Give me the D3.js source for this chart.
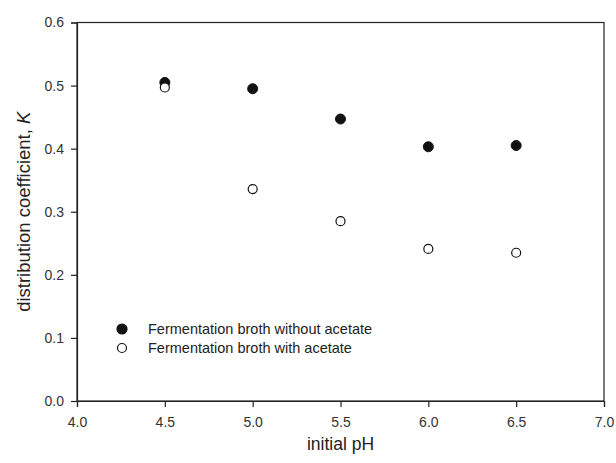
<!DOCTYPE html>
<html>
<head>
<meta charset="utf-8">
<script src="https://cdn.jsdelivr.net/npm/d3@7"></script>
<style>
  body { margin: 0; background: #fff; }
  svg text { font-family: "Liberation Sans", Arial, sans-serif; fill: #222; }
</style>
</head>
<body>
<div id="chart-area"></div>
<script>
// Data
const phValues = [4.5, 5.0, 5.5, 6.0, 6.5];
const withoutAcetate = [0.505, 0.495, 0.447, 0.403, 0.405];
const withAcetate = [0.497, 0.336, 0.285, 0.241, 0.235];
const xTicks = [4.0, 4.5, 5.0, 5.5, 6.0, 6.5, 7.0];
const yTicks = [0.0, 0.1, 0.2, 0.3, 0.4, 0.5, 0.6];
const seriesNames = ["Fermentation broth without acetate", "Fermentation broth with acetate"];

const margin = { left: 77, right: 12, top: 22.5, bottom: 62 };
const W = 616, H = 463;
const width = W - margin.left - margin.right;
const height = H - margin.top - margin.bottom;

const svg = d3.select("#chart-area").append("svg")
    .attr("width", W)
    .attr("height", H);

const g = svg.append("g")
    .attr("transform", `translate(${margin.left}, ${margin.top})`);

const xScale = d3.scaleLinear().domain([4.0, 7.0]).range([0, width]);
const yScale = d3.scaleLinear().domain([0, 0.6]).range([height, 0]);

// Frame (top and right have no ticks)
g.append("rect")
    .attr("width", width)
    .attr("height", height)
    .attr("fill", "none")
    .attr("stroke", "#222")
    .attr("stroke-width", 1.2);

const xAxis = g.append("g")
    .attr("transform", `translate(0, ${height})`)
    .call(d3.axisBottom(xScale).tickValues(xTicks).tickFormat(d3.format(".1f")).tickSize(6).tickPadding(10));

const yAxis = g.append("g")
    .call(d3.axisLeft(yScale).tickValues(yTicks).tickFormat(d3.format(".1f")).tickSize(6).tickPadding(7));

[xAxis, yAxis].forEach(a => {
    a.select(".domain").attr("stroke", "#222").attr("stroke-width", 1.2);
    a.selectAll(".tick line").attr("stroke", "#222").attr("stroke-width", 1.2);
    a.selectAll(".tick text").style("font-size", "14px").style("fill", "#333");
});

// Axis labels
svg.append("text")
    .attr("x", margin.left + width / 2)
    .attr("y", 450)
    .style("text-anchor", "middle")
    .style("font-size", "17.5px")
    .text("initial pH");

const yLabel = svg.append("text")
    .attr("transform", `translate(30, ${margin.top + height / 2}) rotate(-90)`)
    .style("text-anchor", "middle")
    .style("font-size", "18.5px");
yLabel.append("tspan").text("distribution coefficient, ");
yLabel.append("tspan").style("font-style", "italic").text("K");

// Points
const pts = g.append("g");
pts.selectAll("circle.filled")
    .data(phValues.map((x, i) => ({ x, y: withoutAcetate[i] })))
    .enter().append("circle")
    .attr("class", "filled")
    .attr("cx", d => xScale(d.x))
    .attr("cy", d => yScale(d.y))
    .attr("r", 5)
    .attr("fill", "#111")
    .attr("stroke", "#111");

pts.selectAll("circle.open")
    .data(phValues.map((x, i) => ({ x, y: withAcetate[i] })))
    .enter().append("circle")
    .attr("class", "open")
    .attr("cx", d => xScale(d.x))
    .attr("cy", d => yScale(d.y))
    .attr("r", 4.5)
    .attr("fill", "#fff")
    .attr("stroke", "#111")
    .attr("stroke-width", 1.2);

// Legend
const legend = svg.append("g").attr("transform", "translate(122, 329)");
const entries = legend.selectAll("g")
    .data(seriesNames)
    .enter().append("g")
    .attr("transform", (d, i) => `translate(0, ${i * 19})`);

entries.append("circle")
    .attr("r", (d, i) => i === 0 ? 5 : 4.5)
    .attr("fill", (d, i) => i === 0 ? "#111" : "#fff")
    .attr("stroke", "#111")
    .attr("stroke-width", 1.2);

entries.append("text")
    .attr("x", 26)
    .attr("dy", "0.35em")
    .style("font-size", "14.5px")
    .text(d => d);
</script>
</body>
</html>
